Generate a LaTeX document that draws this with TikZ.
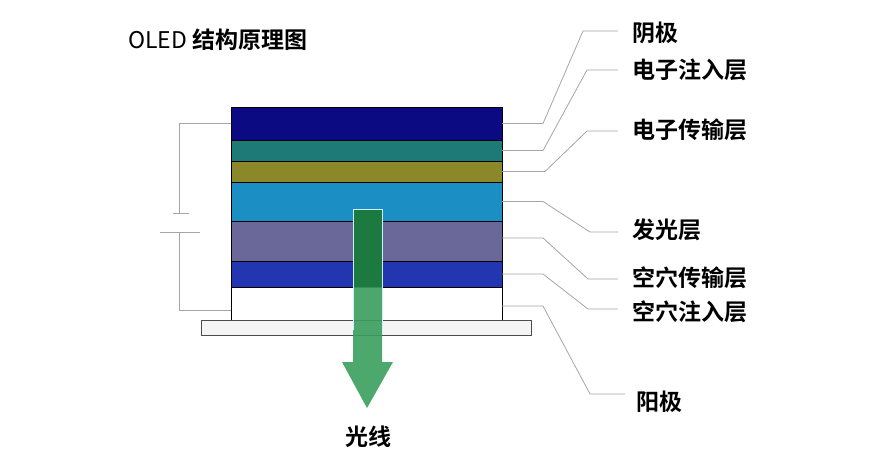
\documentclass[tikz,border=0pt]{standalone}
\usepackage{fontspec}
\newfontfamily\cjk{Noto Sans CJK SC}[BoldFont={Noto Sans CJK SC Bold}]
\usepackage{tikz}
\usetikzlibrary{positioning,calc}
\usepackage{xcolor}
\definecolor{cCath}{RGB}{12,10,130}
\definecolor{cEinj}{RGB}{30,122,118}
\definecolor{cEtr}{RGB}{138,136,40}
\definecolor{cEml}{RGB}{27,143,196}
\definecolor{cHtr}{RGB}{106,104,152}
\definecolor{cHinj}{RGB}{34,54,178}
\definecolor{cLight}{RGB}{58,158,94}
\definecolor{cLightD}{RGB}{28,122,64}
\definecolor{cWire}{RGB}{165,165,165}

\tikzset{
  layer/.style={draw=black, line width=0.9pt, minimum width=271pt, inner sep=0pt, outer sep=0pt},
  callout/.style={draw=cWire, line width=0.8pt},
  lbl/.style={font=\cjk\bfseries\fontsize{23}{27}\selectfont, inner sep=2pt, anchor=west},
}

\begin{document}
\begin{tikzpicture}[x=1pt, y=-1pt]
  \useasboundingbox (0,0) rectangle (880,469);
  % title
  \node[anchor=west, inner sep=0pt, font=\cjk\fontsize{23}{27}\selectfont] (title) at (128,40)
    {OLED \textbf{结构原理图}};
  % layer stack
  \node[layer, fill=cCath, minimum height=33pt, anchor=north west] (cath) at (231,107) {};
  \node[layer, fill=cEinj, minimum height=21pt, below=0pt of cath] (einj) {};
  \node[layer, fill=cEtr, minimum height=21pt, below=0pt of einj] (etr) {};
  \node[layer, fill=cEml, minimum height=39pt, below=0pt of etr] (eml) {};
  \node[layer, fill=cHtr, minimum height=40pt, below=0pt of eml] (htr) {};
  \node[layer, fill=cHinj, minimum height=26pt, below=0pt of htr] (hinj) {};
  \node[layer, fill=white, minimum height=33pt, below=0pt of hinj] (anode) {};
  % substrate
  \node[draw=black!70, fill=black!4, line width=0.9pt, minimum width=330pt, minimum height=15pt,
        inner sep=0pt, below=0pt of anode] (glass) {};
  % light arrow
  \fill[cLight, fill opacity=0.9]
    (353,209) -- (382,209) -- (382,362) -- (393,362) -- (367,408) -- (342,362) -- (353,362) -- cycle;
  \fill[cLightD] (353,209) rectangle (382,287);
  \draw[cyan!20, line width=0.8pt] (353,330) -- (353,209) -- (382,209) -- (382,330);
  \node[font=\cjk\bfseries\fontsize{23}{27}\selectfont, inner sep=0pt] (light) at (368,437) {光线};
  % battery
  \coordinate (batT) at (179,213);
  \coordinate (batB) at (179,232);
  \draw[callout] (cath.west) -| (batT);
  \draw[callout] (batB) |- ([yshift=-6.5pt]anode.west);
  \draw[callout] ([xshift=-6pt]batT) -- ([xshift=10pt]batT);
  \draw[callout] ([xshift=-19pt]batB) -- ([xshift=21pt]batB);
  % labels
  \node[lbl] (lCath) at (630,33) {阴极};
  \node[lbl] (lEinj) at (630,70) {电子注入层};
  \node[lbl] (lEtr) at (630,130) {电子传输层};
  \node[lbl] (lEml) at (630,230) {发光层};
  \node[lbl] (lHtr) at (630,278) {空穴传输层};
  \node[lbl] (lHinj) at (630,312) {空穴注入层};
  \node[lbl] (lAnode) at (634,402) {阳极};
  % callout lines
  \draw[callout] (cath.east) -- ++(41,0) -- ([xshift=-47pt,yshift=2pt]lCath.west) -- ([xshift=-12pt,yshift=2pt]lCath.west);
  \draw[callout] (einj.east) -- ++(41,0) -- ([xshift=-43pt]lEinj.west) -- ([xshift=-12pt]lEinj.west);
  \draw[callout] (etr.east) -- ++(43,0) -- ([xshift=-43pt,yshift=-1pt]lEtr.west) -- ([xshift=-12pt,yshift=-1pt]lEtr.west);
  \draw[callout] (eml.east) -- ++(41,0) -- ([xshift=-40pt,yshift=-2pt]lEml.west) -- ([xshift=-12pt,yshift=-2pt]lEml.west);
  \draw[callout] ([yshift=3pt]htr.east) -- ++(41,0) -- ([xshift=-42pt,yshift=-1pt]lHtr.west) -- ([xshift=-12pt,yshift=-1pt]lHtr.west);
  \draw[callout] (hinj.east) -- ++(41,0) -- ([xshift=-42pt,yshift=3pt]lHinj.west) -- ([xshift=-12pt,yshift=3pt]lHinj.west);
  \draw[callout] ([yshift=-2.5pt]anode.east) -- ++(41,0) -- ([xshift=-44pt,yshift=8pt]lAnode.west) -- ([xshift=-9pt,yshift=8pt]lAnode.west);
\end{tikzpicture}
\end{document}
